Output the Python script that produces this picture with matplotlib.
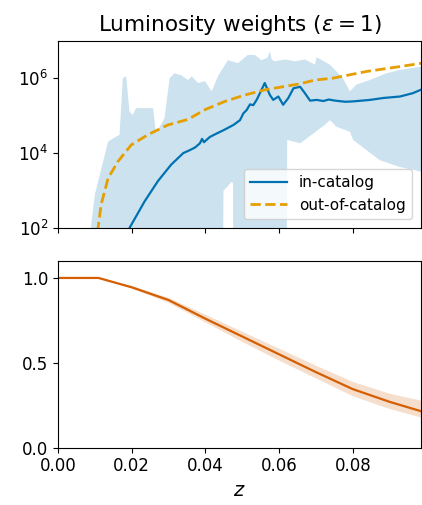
import numpy as np
import matplotlib
matplotlib.use('Agg')
import matplotlib.pyplot as plt

# --- data (top panel values are log10 of the weight) ---
in_cat_z = [0.0190, 0.0194, 0.0235, 0.0271, 0.0307, 0.0340, 0.0358, 0.0372, 0.0385, 0.0391,
            0.0396, 0.0412, 0.0430, 0.0449, 0.0476, 0.0494, 0.0503, 0.0512, 0.0521, 0.0530,
            0.0539, 0.0548, 0.0561, 0.0575, 0.0584, 0.0598, 0.0611, 0.0625, 0.0639, 0.0657,
            0.0670, 0.0684, 0.0702, 0.0720, 0.0735, 0.0752, 0.0780, 0.0801, 0.0847, 0.0882,
            0.0928, 0.0963, 0.0987]
in_cat_log = [1.8, 2.0, 2.71, 3.25, 3.69, 4.0, 4.08, 4.15, 4.26, 4.38,
              4.29, 4.43, 4.52, 4.61, 4.75, 4.88, 5.06, 5.15, 5.30, 5.28,
              5.42, 5.60, 5.87, 5.55, 5.42, 5.51, 5.29, 5.47, 5.73, 5.77,
              5.60, 5.40, 5.42, 5.39, 5.43, 5.40, 5.37, 5.38, 5.42, 5.47,
              5.51, 5.60, 5.70]

out_cat_z = [0.0104, 0.0108, 0.0117, 0.0136, 0.0163, 0.0199, 0.0244, 0.0298, 0.0353, 0.0399,
             0.0453, 0.0507, 0.0562, 0.0616, 0.0657, 0.0697, 0.0746, 0.0838, 0.0928, 0.0988]
out_cat_log = [1.5, 1.95, 2.62, 3.33, 3.78, 4.22, 4.49, 4.75, 4.90, 5.16,
               5.38, 5.55, 5.69, 5.78, 5.85, 5.95, 6.0, 6.18, 6.31, 6.40]

band_up_z = [0.0084, 0.0089, 0.0100, 0.0136, 0.0167, 0.0176, 0.0185, 0.0194, 0.0203, 0.0212,
             0.0258, 0.0266, 0.0289, 0.0303, 0.0316, 0.0334, 0.0353, 0.0363, 0.0380, 0.0399,
             0.0417, 0.0434, 0.0461, 0.0488, 0.0515, 0.0534, 0.0552, 0.0569, 0.0575, 0.0580,
             0.0588, 0.0616, 0.0643, 0.0670, 0.0697, 0.0702, 0.0738, 0.0773, 0.0792, 0.0810,
             0.0846, 0.0891, 0.0927, 0.0987]
band_up_log = [-1.0, 2.0, 2.89, 4.31, 4.49, 6.0, 6.05, 5.11, 5.02, 5.2,
               5.2, 4.53, 4.93, 6.0, 6.13, 6.08, 5.95, 6.05, 5.87, 5.92,
               5.65, 6.05, 6.48, 6.4, 6.62, 6.62, 6.48, 6.55, 6.72, 6.5,
               6.45, 6.5, 6.45, 6.5, 6.36, 6.56, 6.36, 6.0, 5.65, 5.83,
               5.95, 6.13, 6.22, 6.31]

band_lo_z = [0.0084, 0.0447, 0.0449, 0.0460, 0.0470, 0.0475, 0.0476, 0.0620, 0.0622, 0.0657,
             0.0724, 0.0738, 0.0756, 0.0792, 0.0801, 0.0837, 0.0873, 0.0927, 0.0987]
band_lo_log = [-1.0, -1.0, 3.0, 3.1, 3.23, 3.2, -1.0, -1.0, 4.35, 4.26,
               4.75, 4.88, 4.70, 4.57, 4.35, 4.08, 3.81, 3.63, 3.5]

frac_z = [0.0, 0.011, 0.02, 0.03, 0.04, 0.05, 0.06, 0.07, 0.08, 0.09, 0.0985]
frac = [1.0, 1.0, 0.945, 0.87, 0.76, 0.655, 0.55, 0.445, 0.345, 0.27, 0.215]
frac_hi = [1.0, 1.0, 0.955, 0.885, 0.785, 0.685, 0.585, 0.485, 0.39, 0.32, 0.28]
frac_lo = [1.0, 1.0, 0.94, 0.855, 0.74, 0.625, 0.515, 0.41, 0.305, 0.23, 0.18]

blue = '#0072B2'
orange = '#E69F00'
red = '#D55E00'

fig = plt.figure(figsize=(4.22, 5.05), dpi=100)
ax1 = fig.add_axes([0.1374, 0.5485, 0.8602, 0.3709])
ax2 = fig.add_axes([0.1374, 0.1135, 0.8602, 0.3697], sharex=ax1)

# top panel: weights
poly_z = np.concatenate([band_up_z, band_lo_z[::-1]])
poly_y = 10 ** np.concatenate([band_up_log, band_lo_log[::-1]])
ax1.fill(poly_z, poly_y, color=blue, alpha=0.2, lw=0)
ax1.plot(in_cat_z, 10 ** np.array(in_cat_log), color=blue, lw=1.6, label='in-catalog')
ax1.plot(out_cat_z, 10 ** np.array(out_cat_log), color=orange, lw=2, ls='--', label='out-of-catalog')
ax1.set_yscale('log')
ax1.set_ylim(1e2, 1e7)
ax1.set_yticks([1e2, 1e4, 1e6])
ax1.minorticks_off()
ax1.tick_params(labelbottom=False, labelsize=12)
ax1.set_title(r'Luminosity weights ($\varepsilon = 1$)', fontsize=15.5, pad=7)
ax1.legend(loc='lower right', fontsize=11, handlelength=2.4, borderaxespad=0.6)

# bottom panel: fraction
ax2.fill_between(frac_z, frac_lo, frac_hi, color=red, alpha=0.2, lw=0)
ax2.plot(frac_z, frac, color=red, lw=1.6)
ax2.set_ylim(0, 1.1)
ax2.set_yticks([0.0, 0.5, 1.0])
ax2.set_xlim(0, 0.0985)
ax2.set_xticks([0.0, 0.02, 0.04, 0.06, 0.08])
ax2.tick_params(labelsize=12)
ax2.set_xlabel('$z$', fontsize=14)

fig.savefig('out.png', dpi=100)
